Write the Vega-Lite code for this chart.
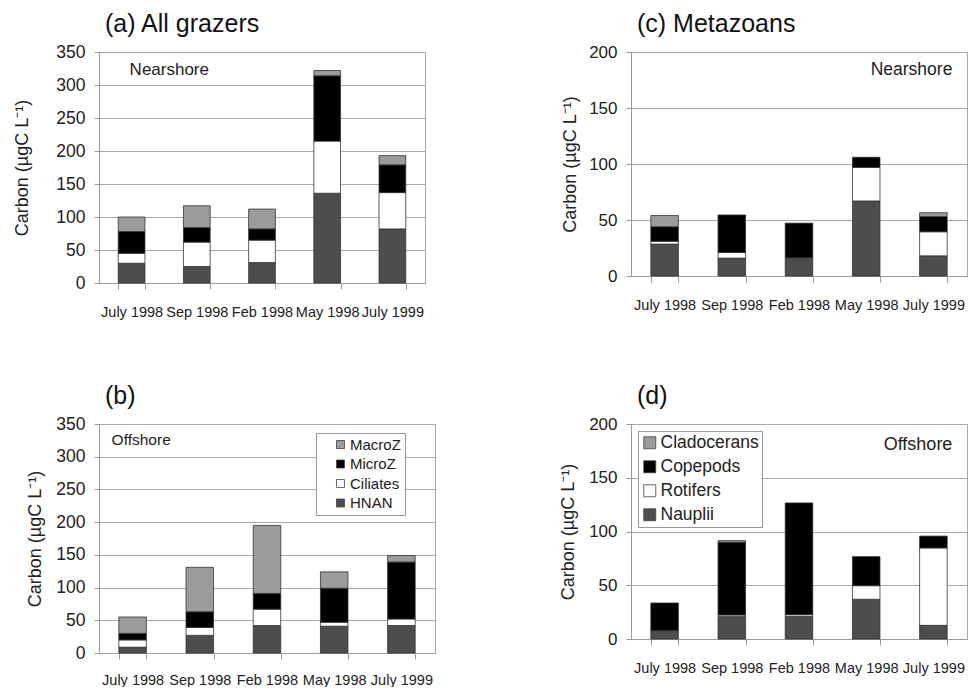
{
  "$schema": "https://vega.github.io/schema/vega-lite/v6.json",
  "background": "white",
  "padding": {"left": 13, "top": 11, "right": 0, "bottom": 0},
  "datasets": {
    "a": [
      {"month": "July 1998", "group": "HNAN", "carbon": 30},
      {"month": "July 1998", "group": "Ciliates", "carbon": 15},
      {"month": "July 1998", "group": "MicroZ", "carbon": 33},
      {"month": "July 1998", "group": "MacroZ", "carbon": 22},
      {"month": "Sep 1998", "group": "HNAN", "carbon": 25},
      {"month": "Sep 1998", "group": "Ciliates", "carbon": 37},
      {"month": "Sep 1998", "group": "MicroZ", "carbon": 22},
      {"month": "Sep 1998", "group": "MacroZ", "carbon": 33},
      {"month": "Feb 1998", "group": "HNAN", "carbon": 31},
      {"month": "Feb 1998", "group": "Ciliates", "carbon": 34},
      {"month": "Feb 1998", "group": "MicroZ", "carbon": 17},
      {"month": "Feb 1998", "group": "MacroZ", "carbon": 30},
      {"month": "May 1998", "group": "HNAN", "carbon": 136},
      {"month": "May 1998", "group": "Ciliates", "carbon": 79},
      {"month": "May 1998", "group": "MicroZ", "carbon": 99},
      {"month": "May 1998", "group": "MacroZ", "carbon": 8},
      {"month": "July 1999", "group": "HNAN", "carbon": 82},
      {"month": "July 1999", "group": "Ciliates", "carbon": 55},
      {"month": "July 1999", "group": "MicroZ", "carbon": 42},
      {"month": "July 1999", "group": "MacroZ", "carbon": 14}
    ],
    "b": [
      {"month": "July 1998", "group": "HNAN", "carbon": 9},
      {"month": "July 1998", "group": "Ciliates", "carbon": 11},
      {"month": "July 1998", "group": "MicroZ", "carbon": 10},
      {"month": "July 1998", "group": "MacroZ", "carbon": 25},
      {"month": "Sep 1998", "group": "HNAN", "carbon": 27},
      {"month": "Sep 1998", "group": "Ciliates", "carbon": 12},
      {"month": "Sep 1998", "group": "MicroZ", "carbon": 24},
      {"month": "Sep 1998", "group": "MacroZ", "carbon": 68},
      {"month": "Feb 1998", "group": "HNAN", "carbon": 42},
      {"month": "Feb 1998", "group": "Ciliates", "carbon": 25},
      {"month": "Feb 1998", "group": "MicroZ", "carbon": 24},
      {"month": "Feb 1998", "group": "MacroZ", "carbon": 104},
      {"month": "May 1998", "group": "HNAN", "carbon": 41},
      {"month": "May 1998", "group": "Ciliates", "carbon": 6},
      {"month": "May 1998", "group": "MicroZ", "carbon": 52},
      {"month": "May 1998", "group": "MacroZ", "carbon": 25},
      {"month": "July 1999", "group": "HNAN", "carbon": 42},
      {"month": "July 1999", "group": "Ciliates", "carbon": 10},
      {"month": "July 1999", "group": "MicroZ", "carbon": 87},
      {"month": "July 1999", "group": "MacroZ", "carbon": 10}
    ],
    "c": [
      {"month": "July 1998", "group": "Nauplii", "carbon": 28.5},
      {"month": "July 1998", "group": "Rotifers", "carbon": 2.5},
      {"month": "July 1998", "group": "Copepods", "carbon": 13},
      {"month": "July 1998", "group": "Cladocerans", "carbon": 10},
      {"month": "Sep 1998", "group": "Nauplii", "carbon": 16},
      {"month": "Sep 1998", "group": "Rotifers", "carbon": 5},
      {"month": "Sep 1998", "group": "Copepods", "carbon": 33.5},
      {"month": "Feb 1998", "group": "Nauplii", "carbon": 15.5},
      {"month": "Feb 1998", "group": "Rotifers", "carbon": 0.7},
      {"month": "Feb 1998", "group": "Copepods", "carbon": 31},
      {"month": "May 1998", "group": "Nauplii", "carbon": 67},
      {"month": "May 1998", "group": "Rotifers", "carbon": 30},
      {"month": "May 1998", "group": "Copepods", "carbon": 9},
      {"month": "July 1999", "group": "Nauplii", "carbon": 18},
      {"month": "July 1999", "group": "Rotifers", "carbon": 21.5},
      {"month": "July 1999", "group": "Copepods", "carbon": 13.5},
      {"month": "July 1999", "group": "Cladocerans", "carbon": 3.5}
    ],
    "d": [
      {"month": "July 1998", "group": "Nauplii", "carbon": 7.8},
      {"month": "July 1998", "group": "Copepods", "carbon": 25.7},
      {"month": "Sep 1998", "group": "Nauplii", "carbon": 20.8},
      {"month": "Sep 1998", "group": "Rotifers", "carbon": 1.5},
      {"month": "Sep 1998", "group": "Copepods", "carbon": 67.7},
      {"month": "Sep 1998", "group": "Cladocerans", "carbon": 1.5},
      {"month": "Feb 1998", "group": "Nauplii", "carbon": 21},
      {"month": "Feb 1998", "group": "Rotifers", "carbon": 1.6},
      {"month": "Feb 1998", "group": "Copepods", "carbon": 104},
      {"month": "May 1998", "group": "Nauplii", "carbon": 37},
      {"month": "May 1998", "group": "Rotifers", "carbon": 12.6},
      {"month": "May 1998", "group": "Copepods", "carbon": 27},
      {"month": "July 1999", "group": "Nauplii", "carbon": 12.7},
      {"month": "July 1999", "group": "Rotifers", "carbon": 72},
      {"month": "July 1999", "group": "Copepods", "carbon": 11}
    ]
  },
  "config": {
    "font": "Liberation Sans",
    "view": {"stroke": "#a8a8a8", "strokeWidth": 1},
    "axis": {
      "labelColor": "#222",
      "titleColor": "#222",
      "domainColor": "#9a9a9a",
      "tickColor": "#9a9a9a",
      "gridColor": "#a8a8a8",
      "titleFontWeight": "normal",
      "labelFont": "Liberation Sans",
      "titleFont": "Liberation Sans",
      "labelOverlap": false
    },
    "axisX": {"labelAngle": 0, "labelFontSize": 14.5, "tickBand": "extent", "tickSize": 6, "labelPadding": 16, "grid": false, "title": null},
    "axisY": {"labelFontSize": 17.5, "tickSize": 5, "labelPadding": 9, "titleFontSize": 18, "grid": true},
    "title": {"anchor": "start", "frame": "group", "fontSize": 25, "fontWeight": "normal", "color": "#111", "dx": 6, "offset": 6},
    "bar": {"stroke": "#333", "strokeWidth": 0.8},
    "legend": {
      "title": null,
      "orient": "none",
      "symbolType": "square",
      "symbolStrokeColor": "#444",
      "symbolStrokeWidth": 0.8,
      "strokeColor": "#999",
      "fillColor": "white",
      "labelColor": "#222",
      "labelFont": "Liberation Sans"
    }
  },
  "columns": 2,
  "bounds": "flush",
  "spacing": {"row": 141, "column": 196},
  "resolve": {"scale": {"color": "independent", "x": "independent", "y": "independent"}, "legend": {"color": "independent"}},
  "concat": [
    {
      "width": 326,
      "height": 231,
      "title": {"text": "(a) All grazers"},
      "layer": [
        {
          "data": {"name": "a"},
          "transform": [{"calculate": "indexof(['HNAN','Ciliates','MicroZ','MacroZ'], datum.group)", "as": "o"}],
          "mark": {"type": "bar"},
          "encoding": {
            "x": {"field": "month", "type": "nominal", "sort": null, "scale": {"domain": ["July 1998", "Sep 1998", "Feb 1998", "May 1998", "July 1999"], "paddingInner": 0.59, "paddingOuter": 0.295}},
            "y": {"field": "carbon", "type": "quantitative", "stack": "zero", "scale": {"domain": [0, 350], "nice": false}, "axis": {"values": [0, 50, 100, 150, 200, 250, 300, 350], "title": "Carbon (µgC L⁻¹)", "titlePadding": 24}},
            "color": {"field": "group", "type": "nominal", "scale": {"domain": ["MacroZ", "MicroZ", "Ciliates", "HNAN"], "range": ["#9b9b9b", "#000000", "#ffffff", "#4d4d4d"]}, "legend": null},
            "order": {"field": "o", "type": "quantitative"}
          }
        },
        {
          "data": {"values": [{"label": "Nearshore"}]},
          "mark": {"type": "text", "align": "left", "baseline": "middle", "fontSize": 17, "color": "#222", "dx": -2},
          "encoding": {"text": {"field": "label"}, "x": {"datum": "July 1998"}, "y": {"datum": 322, "axis": {"values": [0, 50, 100, 150, 200, 250, 300, 350], "title": "Carbon (µgC L⁻¹)", "titlePadding": 24}}}
        }
      ]
    },
    {
      "width": 336,
      "height": 224,
      "title": {"text": "(c) Metazoans"},
      "layer": [
        {
          "data": {"name": "c"},
          "transform": [{"calculate": "indexof(['Nauplii','Rotifers','Copepods','Cladocerans'], datum.group)", "as": "o"}],
          "mark": {"type": "bar"},
          "encoding": {
            "x": {"field": "month", "type": "nominal", "sort": null, "scale": {"domain": ["July 1998", "Sep 1998", "Feb 1998", "May 1998", "July 1999"], "paddingInner": 0.59, "paddingOuter": 0.295}},
            "y": {"field": "carbon", "type": "quantitative", "stack": "zero", "scale": {"domain": [0, 200], "nice": false}, "axis": {"values": [0, 50, 100, 150, 200], "title": "Carbon (µgC L⁻¹)", "titlePadding": 9, "labelFontSize": 17}},
            "color": {"field": "group", "type": "nominal", "scale": {"domain": ["Cladocerans", "Copepods", "Rotifers", "Nauplii"], "range": ["#9b9b9b", "#000000", "#ffffff", "#4d4d4d"]}, "legend": null},
            "order": {"field": "o", "type": "quantitative"}
          }
        },
        {
          "data": {"values": [{"label": "Nearshore"}]},
          "mark": {"type": "text", "align": "right", "baseline": "middle", "fontSize": 17.5, "color": "#222", "dx": 19},
          "encoding": {"text": {"field": "label"}, "x": {"datum": "July 1999"}, "y": {"datum": 184, "axis": {"values": [0, 50, 100, 150, 200], "title": "Carbon (µgC L⁻¹)", "titlePadding": 9, "labelFontSize": 17}}}
        }
      ]
    },
    {
      "width": 336,
      "height": 229,
      "title": {"text": "(b)"},
      "layer": [
        {
          "data": {"name": "b"},
          "transform": [{"calculate": "indexof(['HNAN','Ciliates','MicroZ','MacroZ'], datum.group)", "as": "o"}],
          "mark": {"type": "bar"},
          "encoding": {
            "x": {"field": "month", "type": "nominal", "sort": null, "scale": {"domain": ["July 1998", "Sep 1998", "Feb 1998", "May 1998", "July 1999"], "paddingInner": 0.59, "paddingOuter": 0.295}, "axis": {"labelPadding": 14}},
            "y": {"field": "carbon", "type": "quantitative", "stack": "zero", "scale": {"domain": [0, 350], "nice": false}, "axis": {"values": [0, 50, 100, 150, 200, 250, 300, 350], "title": "Carbon (µgC L⁻¹)", "titlePadding": 11}},
            "color": {"field": "group", "type": "nominal", "scale": {"domain": ["MacroZ", "MicroZ", "Ciliates", "HNAN"], "range": ["#9b9b9b", "#000000", "#ffffff", "#4d4d4d"]},
              "legend": {"legendX": 217, "legendY": 9, "labelFontSize": 15, "symbolSize": 64, "symbolOffset": 13, "padding": 4, "rowPadding": 3.5, "labelOffset": 2}},
            "order": {"field": "o", "type": "quantitative"}
          }
        },
        {
          "data": {"values": [{"label": "Offshore"}]},
          "mark": {"type": "text", "align": "left", "baseline": "middle", "fontSize": 15.5, "color": "#222", "dx": -21},
          "encoding": {"text": {"field": "label"}, "x": {"datum": "July 1998", "axis": {"labelPadding": 14}}, "y": {"datum": 325, "axis": {"values": [0, 50, 100, 150, 200, 250, 300, 350], "title": "Carbon (µgC L⁻¹)", "titlePadding": 11}}}
        }
      ]
    },
    {
      "width": 336,
      "height": 215,
      "title": {"text": "(d)"},
      "layer": [
        {
          "data": {"name": "d"},
          "transform": [{"calculate": "indexof(['Nauplii','Rotifers','Copepods','Cladocerans'], datum.group)", "as": "o"}],
          "mark": {"type": "bar"},
          "encoding": {
            "x": {"field": "month", "type": "nominal", "sort": null, "scale": {"domain": ["July 1998", "Sep 1998", "Feb 1998", "May 1998", "July 1999"], "paddingInner": 0.59, "paddingOuter": 0.295}},
            "y": {"field": "carbon", "type": "quantitative", "stack": "zero", "scale": {"domain": [0, 200], "nice": false}, "axis": {"values": [0, 50, 100, 150, 200], "title": "Carbon (µgC L⁻¹)", "titlePadding": 11, "labelFontSize": 17}},
            "color": {"field": "group", "type": "nominal", "scale": {"domain": ["Cladocerans", "Copepods", "Rotifers", "Nauplii"], "range": ["#9b9b9b", "#000000", "#ffffff", "#4d4d4d"]},
              "legend": {"legendX": 7, "legendY": 7, "labelFontSize": 17.5, "symbolSize": 144, "padding": 3, "rowPadding": 5, "labelOffset": 2}},
            "order": {"field": "o", "type": "quantitative"}
          }
        },
        {
          "data": {"values": [{"label": "Offshore"}]},
          "mark": {"type": "text", "align": "right", "baseline": "middle", "fontSize": 18, "color": "#222", "dx": 19},
          "encoding": {"text": {"field": "label"}, "x": {"datum": "July 1999"}, "y": {"datum": 180.5, "axis": {"values": [0, 50, 100, 150, 200], "title": "Carbon (µgC L⁻¹)", "titlePadding": 11, "labelFontSize": 17}}}
        }
      ]
    }
  ]
}
